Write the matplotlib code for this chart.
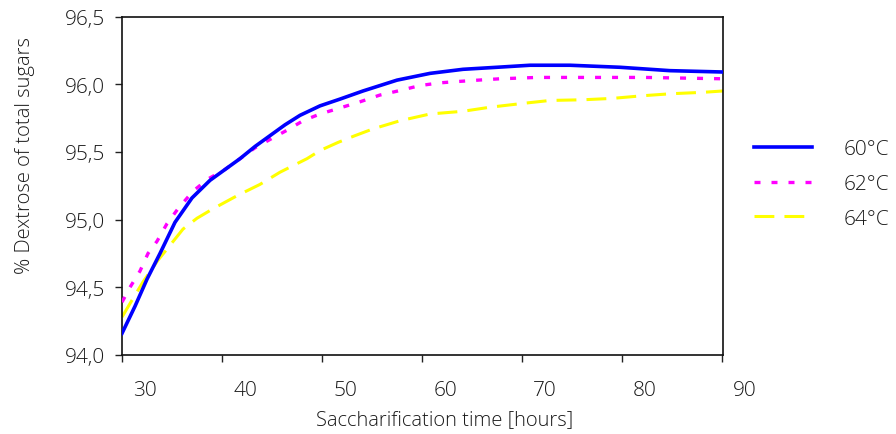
import matplotlib
matplotlib.use("Agg")
import matplotlib.pyplot as plt
import matplotlib.transforms as mtransforms

plt.rcParams['font.family'] = ['Open Sans', 'DejaVu Sans']
plt.rcParams['font.weight'] = 'light'

# ── data ──────────────────────────────────────────────────────────
hours_60 = [27.7, 29.0, 30.2, 31.5, 33.0, 34.7, 36.5, 38.0, 39.5, 41.0, 42.5, 44.0,
            45.5, 47.5, 49.5, 51.8, 55.2, 58.5, 61.8, 65.2, 68.5, 72.5, 77.5, 82.5, 87.8]
dex_60 = [94.16, 94.36, 94.56, 94.75, 94.98, 95.16, 95.29, 95.37, 95.45, 95.54, 95.62, 95.70,
          95.77, 95.84, 95.89, 95.95, 96.03, 96.08, 96.11, 96.125, 96.14, 96.14, 96.125, 96.10, 96.09]

hours_62 = [27.7, 28.5, 29.5, 30.3, 31.2, 32.2, 33.3, 34.8, 36.3, 38.0, 39.5, 41.0, 42.7,
            44.2, 45.8, 47.5, 49.3, 51.5, 53.5, 55.3, 57.5, 59.5, 61.3, 63.3, 65.5, 69.2, 80.0, 87.8]
dex_62 = [94.39, 94.50, 94.62, 94.75, 94.84, 94.97, 95.08, 95.21, 95.30, 95.37, 95.45, 95.53, 95.60,
          95.66, 95.73, 95.78, 95.82, 95.87, 95.92, 95.95, 95.99, 96.01, 96.02, 96.03, 96.04, 96.05, 96.05, 96.04]

hours_64 = [27.7, 28.5, 29.8, 31.3, 32.5, 33.8, 35.2, 36.8, 39.3, 41.5, 43.5, 46.2, 47.5,
            49.3, 51.0, 52.8, 55.5, 58.5, 61.8, 64.5, 68.0, 70.5, 73.8, 76.7, 79.8, 82.7, 85.8, 87.8]
dex_64 = [94.28, 94.38, 94.54, 94.70, 94.81, 94.93, 95.01, 95.08, 95.18, 95.26, 95.35, 95.45, 95.51,
          95.57, 95.62, 95.67, 95.73, 95.78, 95.80, 95.83, 95.86, 95.88, 95.885, 95.895, 95.915, 95.93, 95.94, 95.95]

series_labels = ['60°C', '62°C', '64°C']
x_tick_labels = [30, 40, 50, 60, 70, 80, 90]
y_ticks = [94.0, 94.5, 95.0, 95.5, 96.0, 96.5]

X_START = 27.7   # left edge of the plot area
X_END = 87.8

TEXT = '#1a1a1a'
FS = 15

fig = plt.figure(figsize=(8.96, 4.35), dpi=100)
ax = fig.add_axes([122 / 896, 1 - 356 / 435, (723 - 122) / 896, (356 - 17.5) / 435])

ax.plot(hours_60, dex_60, color='#0000ff', lw=2.6, label=series_labels[0], zorder=4)
ax.plot(hours_62, dex_62, color='#ff00ff', lw=2.4, linestyle=(0, (1.8, 3.3)),
        label=series_labels[1], zorder=3)
ax.plot(hours_64, dex_64, color='#ffff00', lw=2.2, linestyle=(0, (6.5, 3.3)),
        label=series_labels[2], zorder=2)

ax.set_xlim(X_START, X_END)
ax.set_ylim(94.0, 96.5)

# tick marks sit at the plot edge; labels are shifted to the right, as in the original
ax.set_xticks([X_START + 10 * i for i in range(len(x_tick_labels))])
ax.set_xticklabels([])
trans = mtransforms.blended_transform_factory(ax.transData, ax.transAxes)
for v in x_tick_labels:
    ax.text(v, -0.075, str(v), transform=trans, ha='center', va='top',
            fontsize=FS, color=TEXT, clip_on=False)

ax.set_yticks(y_ticks)
ax.set_yticklabels([f'{v:.1f}'.replace('.', ',') for v in y_ticks], fontsize=FS, color=TEXT)
ax.tick_params(direction='out', length=5, width=1, color='#222222', pad=7)
for sp in ax.spines.values():
    sp.set_color('#111111')
    sp.set_linewidth(1.2)

fig.text(445 / 896, 1 - 420 / 435, 'Saccharification time [hours]', ha='center', va='center',
         fontsize=14.5, color=TEXT)
fig.text(25 / 896, 1 - 156 / 435, '% Dextrose of total sugars', ha='center', va='center',
         rotation=90, fontsize=14.5, color=TEXT)

leg = ax.legend(loc='center left', bbox_to_anchor=(754 / 896, 1 - 185 / 435),
                bbox_transform=fig.transFigure, frameon=False, fontsize=FS,
                handlelength=2.8, handletextpad=1.5, labelspacing=0.7,
                borderpad=0, borderaxespad=0)
for t in leg.get_texts():
    t.set_color(TEXT)

fig.savefig('out.png', dpi=100)
